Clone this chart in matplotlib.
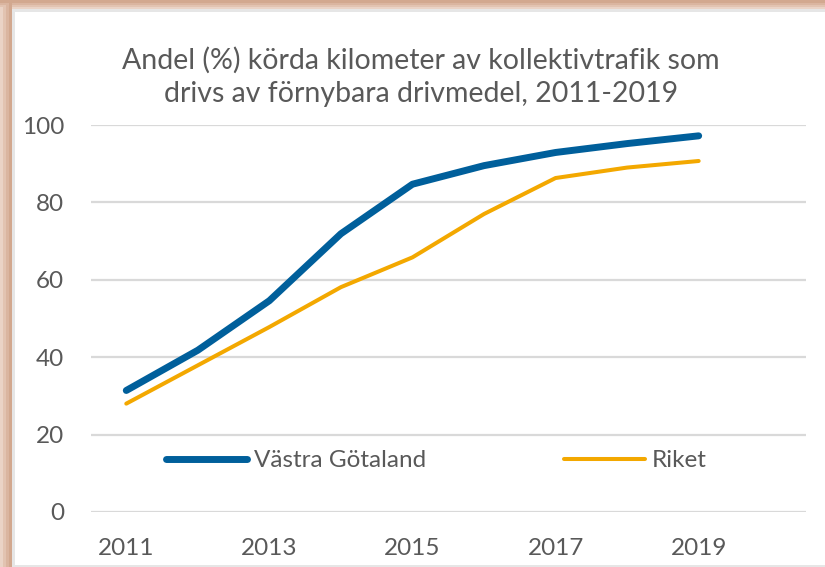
import matplotlib.pyplot as plt
from matplotlib.patches import Rectangle

# data
years = [2011, 2012, 2013, 2014, 2015, 2016, 2017, 2018, 2019]
vastra_gotaland = [31.4, 41.8, 54.6, 71.9, 84.7, 89.5, 92.9, 95.2, 97.2]
riket = [28.0, 37.9, 47.8, 58.1, 65.8, 77.0, 86.3, 89.0, 90.7]
xtick_years = [2011, 2013, 2015, 2017, 2019]
ytick_values = [0, 20, 40, 60, 80, 100]

title = "Andel (%) körda kilometer av kollektivtrafik som\ndrivs av förnybara drivmedel, 2011-2019"

blue = "#005F9B"
orange = "#F3A800"
grey_text = "#595959"
grid_color = "#D9D9D9"

plt.rcParams["font.family"] = ["Lato", "DejaVu Sans"]

W, H = 825, 567
fig = plt.figure(figsize=(W / 100, H / 100), dpi=100)

# frame around the picture (tan border top and left, faint shadow)
tan_shades = ["#EAD3C6", "#E2C3B1", "#DAB5A0", "#D2A88F"]
for i, c in enumerate(tan_shades):
    fig.add_artist(Rectangle((0, 1 - (9 - i * 2) / H), 1, (9 - i * 2) / H,
                             transform=fig.transFigure, color=c, lw=0, zorder=0))
    fig.add_artist(Rectangle((i * 3 / W, 0), 3 / W, 1,
                             transform=fig.transFigure, color=c, lw=0, zorder=0))
fig.add_artist(Rectangle((12 / W, 1 - 12 / H), 1, 3 / H,
                         transform=fig.transFigure, color="#E6E6E6", lw=0, zorder=0))
fig.add_artist(Rectangle((12 / W, 0), 3 / W, 1 - 9 / H,
                         transform=fig.transFigure, color="#E6E6E6", lw=0, zorder=0))
fig.add_artist(Rectangle((12 / W, 0), 1, 2 / H,
                         transform=fig.transFigure, color="#E6E6E6", lw=0, zorder=0))

ax = fig.add_axes([90.5 / W, 1 - 512 / H, (806 - 90.5) / W, (512 - 125) / H])
ax.set_facecolor("none")

ax.plot(years, vastra_gotaland, color=blue, lw=5, solid_capstyle="round",
        label="Västra Götaland", zorder=3)
ax.plot(years, riket, color=orange, lw=2.9, solid_capstyle="round",
        label="Riket", zorder=3)

ax.set_xlim(2010.5, 2020.5)
ax.set_ylim(0, 100)
ax.set_xticks(xtick_years)
ax.set_yticks(ytick_values)
ax.tick_params(length=0, labelsize=17.5, labelcolor=grey_text)
ax.tick_params(axis="x", pad=19)
ax.tick_params(axis="y", pad=19)
ax.grid(axis="y", color=grid_color, lw=1.6)
ax.set_axisbelow(True)
for s in ax.spines.values():
    s.set_visible(False)

leg = ax.legend(ncol=2, loc="center", bbox_to_anchor=(0.4836, 0.132),
                frameon=False, fontsize=17.5, handlelength=3.3,
                handletextpad=0.29, columnspacing=5.7)
for t in leg.get_texts():
    t.set_color(grey_text)
for h in leg.get_lines():
    h.set_solid_capstyle("round")

fig.text(0.5105, 1 - 77 / H, title, ha="center", va="center", fontsize=20.5,
         color=grey_text, linespacing=1.32)

fig.savefig("out.png", dpi=100)
